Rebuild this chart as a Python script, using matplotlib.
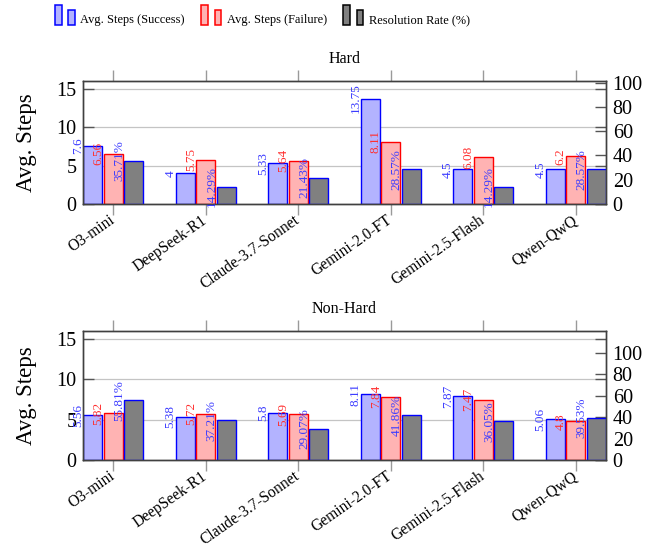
import matplotlib
matplotlib.use('Agg')
import matplotlib.pyplot as plt
from matplotlib.patches import Rectangle, Patch
from matplotlib.legend_handler import HandlerBase
import numpy as np

# ---------------- data ----------------
models = ["O3-mini", "DeepSeek-R1", "Claude-3.7-Sonnet", "Gemini-2.0-FT",
          "Gemini-2.5-Flash", "Qwen-QwQ"]
hard_success = [7.6, 4, 5.33, 13.75, 4.5, 4.5]
hard_failure = [6.56, 5.75, 5.64, 8.11, 6.08, 6.2]
hard_rate = [35.71, 14.29, 21.43, 28.57, 14.29, 28.57]
nonhard_success = [5.56, 5.38, 5.8, 8.11, 7.87, 5.06]
nonhard_failure = [5.82, 5.72, 5.69, 7.84, 7.47, 4.8]
nonhard_rate = [55.81, 37.21, 29.07, 41.86, 36.05, 39.53]
panel_titles = ["Hard", "Non-Hard"]
legend_labels = ["Avg. Steps (Success)", "Avg. Steps (Failure)", "Resolution Rate (%)"]
steps_ticks = [0, 5, 10, 15]
rate_ticks = [0, 20, 40, 60, 80, 100]
y_label = "Avg. Steps"

# ---------------- style ----------------
plt.rcParams['font.family'] = ['Liberation Serif', 'DejaVu Serif']
BLUE_FC, BLUE_EC = '#b3b3ff', '#0000ff'
RED_FC, RED_EC = '#ffb3b3', '#ff0000'
GRAY_FC = '#808080'
BLUE_TXT, RED_TXT = '#3c3cff', '#ff3030'
SPINE = '#404040'

W, H = 647, 550
fig = plt.figure(figsize=(W / 100, H / 100), dpi=100)


def px_axes(l, t, r, b):
    return [l / W, 1 - b / H, (r - l) / W, (b - t) / H]


panels = [
    (px_axes(83.3, 81.3, 605.7, 204.0), hard_success, hard_failure, hard_rate, 101.1),
    (px_axes(83.3, 330.7, 605.7, 460.0), nonhard_success, nonhard_failure, nonhard_rate, 120.5),
]

BW = 0.205
OFF = 0.222
LAB = -0.16

for title, (rect, succ, fail, rate, rmax) in zip(panel_titles, panels):
    ax = fig.add_axes(rect)
    ax2 = ax.twinx()
    x = np.arange(len(models))

    ax.bar(x - OFF, succ, BW, facecolor=BLUE_FC, edgecolor=BLUE_EC, lw=1.0, zorder=2)
    ax.bar(x, fail, BW, facecolor=RED_FC, edgecolor=RED_EC, lw=1.0, zorder=2)
    ax2.bar(x + OFF, rate, BW, facecolor=GRAY_FC, edgecolor=BLUE_EC, lw=1.0, zorder=2)

    for xi, v in zip(x, succ):
        ax.text(xi - OFF + LAB, v, f"{v:g}", rotation=90, ha='center', va='center',
                color=BLUE_TXT, fontsize=9.5, zorder=5)
    for xi, v in zip(x, fail):
        ax.text(xi + LAB, v, f"{v:g}", rotation=90, ha='center', va='center',
                color=RED_TXT, fontsize=9.5, zorder=5)
    for xi, v in zip(x, rate):
        ax2.text(xi + OFF + LAB, v, f"{v:g}%", rotation=90, ha='center', va='center',
                 color=BLUE_TXT, fontsize=9.5, zorder=5)

    ax.set_xlim(-0.325, len(models) - 1 + 0.325)
    ax.set_ylim(0, 16)
    ax2.set_ylim(0, rmax)
    ax.set_yticks(steps_ticks)
    ax2.set_yticks(rate_ticks)

    ax.grid(axis='y', color='#c4c4c4', lw=0.9)
    ax.set_axisbelow(True)

    ax.set_xticks(x)
    ax.set_xticklabels(models, rotation=35, ha='right', va='center',
                       rotation_mode='anchor', fontsize=11.2)
    ax.tick_params(axis='x', direction='out', top=True, bottom=True, length=8,
                   width=1.0, color='#9a9a9a', pad=2.5)
    ax.tick_params(axis='y', direction='in', left=True, right=True, length=8,
                   width=1.0, color='#555555', labelsize=14.5, pad=5)
    ax2.tick_params(axis='y', direction='in', right=True, length=8, width=1.0,
                    color='#555555', labelsize=14.5, pad=5)

    for a in (ax, ax2):
        for sp in a.spines.values():
            sp.set_color(SPINE)
            sp.set_linewidth(1.0)

    ax.set_ylabel(y_label, fontsize=16.5)
    ax.yaxis.set_label_coords(-0.088, 0.5)
    ax.set_title(title, fontsize=11.5, pad=13)


class TwoBarHandler(HandlerBase):
    def create_artists(self, legend, orig_handle, xdescent, ydescent, width, height,
                       fontsize, trans):
        fc = orig_handle.get_facecolor()
        ec = orig_handle.get_edgecolor()
        bw = width * 0.33
        y0 = -ydescent - 0.15 * fontsize
        r1 = Rectangle((-xdescent, y0), bw, 1.6 * fontsize, facecolor=fc,
                       edgecolor=ec, lw=1.1, transform=trans)
        r2 = Rectangle((-xdescent + width - bw, y0), bw, 1.17 * fontsize,
                       facecolor=fc, edgecolor=ec, lw=1.1, transform=trans)
        return [r1, r2]


handles = [Patch(facecolor=BLUE_FC, edgecolor=BLUE_EC),
           Patch(facecolor=RED_FC, edgecolor=RED_EC),
           Patch(facecolor=GRAY_FC, edgecolor='#000000')]
fig.legend(handles, legend_labels, handler_map={Patch: TwoBarHandler()},
           loc='center left', bbox_to_anchor=(55 / W, 1 - 20 / H), ncol=3,
           frameon=False, fontsize=8.9, borderpad=0, borderaxespad=0,
           handlelength=1.62, handletextpad=0.42, columnspacing=1.35)

fig.savefig('out.png', dpi=100)
